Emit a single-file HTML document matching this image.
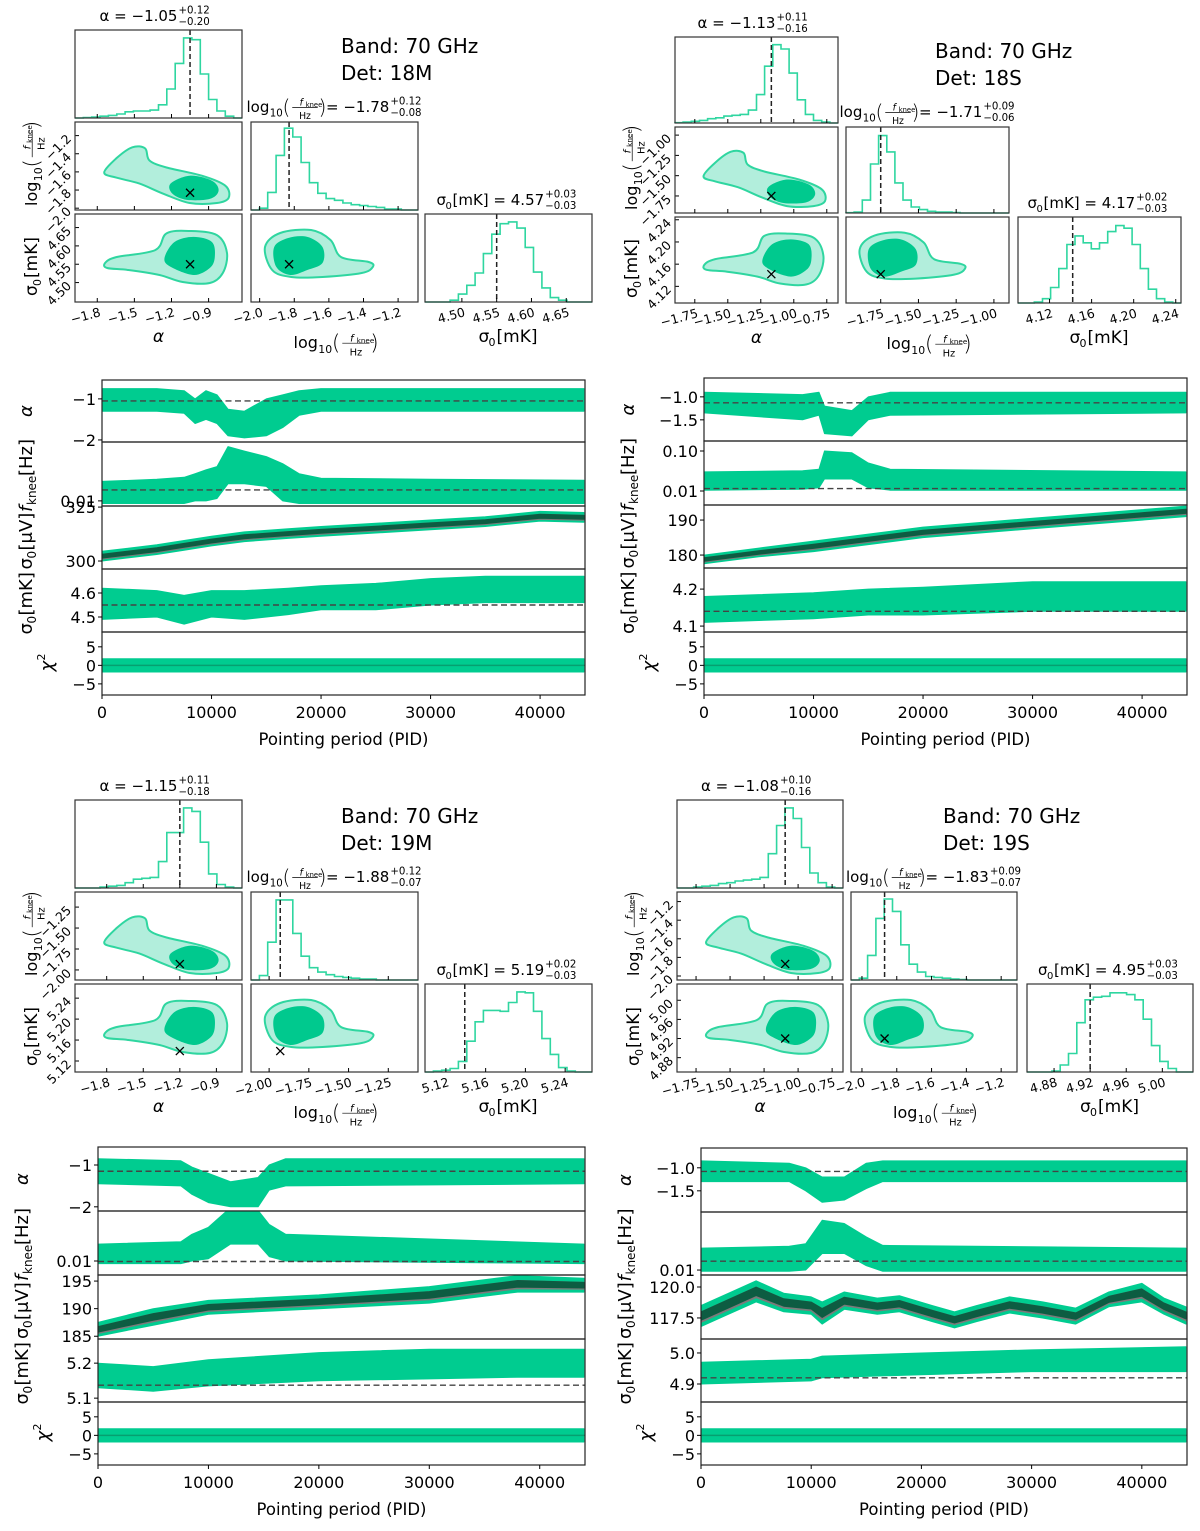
<!DOCTYPE html>
<html><head><meta charset="utf-8"><style>
html,body{margin:0;padding:0;background:#fff}
svg{display:block;font-family:"DejaVu Sans","Liberation Sans",sans-serif}
</style></head><body>
<svg id="fig" width="1200" height="1531" viewBox="0 0 1200 1531"></svg>
<script>
// ---------------- DATA ----------------
const DETS=['18M','18S','19M','19S'];
const ALPHA_MED=[-1.05,-1.13,-1.15,-1.08];
const ALPHA_PLUS=['+0.12','+0.11','+0.11','+0.10'];
const ALPHA_MINUS=['−0.20','−0.16','−0.18','−0.16'];
const LOGF_MED=[-1.78,-1.71,-1.88,-1.83];
const LOGF_PLUS=['+0.12','+0.09','+0.12','+0.09'];
const LOGF_MINUS=['−0.08','−0.06','−0.07','−0.07'];
const SIG_MED=[4.57,4.17,5.19,4.95];
const SIG_PLUS=['+0.03','+0.02','+0.02','+0.03'];
const SIG_MINUS=['−0.03','−0.03','−0.03','−0.03'];
const TRUTH_ALPHA=[-1.05,-1.17,-1.2,-1.095];
const TRUTH_LOGF=[-1.83,-1.75,-1.93,-1.87];
const TRUTH_SIG=[4.55,4.142,5.139,4.92];
const ALPHA_RANGE=[[-1.98,-0.63],[-1.9,-0.665],[-2.06,-0.69],[-1.89,-0.67]];
const LOGF_RANGE=[[-2.05,-1.085],[-1.98,-0.9],[-2.114,-1.063],[-2.063,-1.109]];
const LOGF_YRANGE=[[-2.02,-1.05],[-1.96,-0.9],[-2.12,-1.07],[-2.043,-1.097]];
const SIG_RANGE=[[4.447,4.687],[4.09,4.245],[5.099,5.267],[4.85,5.034]];
const ALPHA_TICKS=[[-1.8,-1.5,-1.2,-0.9],[-1.75,-1.5,-1.25,-1.0,-0.75],[-1.8,-1.5,-1.2,-0.9],[-1.75,-1.5,-1.25,-1.0,-0.75]];
const ALPHA_TICKLBL=[['−1.8','−1.5','−1.2','−0.9'],['−1.75','−1.50','−1.25','−1.00','−0.75'],['−1.8','−1.5','−1.2','−0.9'],['−1.75','−1.50','−1.25','−1.00','−0.75']];
const LOGF_TICKS=[[-2.0,-1.8,-1.6,-1.4,-1.2],[-1.75,-1.5,-1.25,-1.0],[-2.0,-1.75,-1.5,-1.25],[-2.0,-1.8,-1.6,-1.4,-1.2]];
const LOGF_TICKLBL=[['−2.0','−1.8','−1.6','−1.4','−1.2'],['−1.75','−1.50','−1.25','−1.00'],['−2.00','−1.75','−1.50','−1.25'],['−2.0','−1.8','−1.6','−1.4','−1.2']];
const SIG_TICKS=[[4.50,4.55,4.60,4.65],[4.12,4.16,4.20,4.24],[5.12,5.16,5.20,5.24],[4.88,4.92,4.96,5.00]];
const SIG_TICKLBL=[['4.50','4.55','4.60','4.65'],['4.12','4.16','4.20','4.24'],['5.12','5.16','5.20','5.24'],['4.88','4.92','4.96','5.00']];
// histograms (20 equal bins across axis range, height as fraction of panel)
const HIST_ALPHA=[
 [0,0.005,0.01,0.02,0.03,0.045,0.07,0.08,0.08,0.09,0.15,0.33,0.62,0.91,0.89,0.5,0.21,0.08,0.02,0],
 [0.003,0.01,0.02,0.03,0.05,0.06,0.08,0.09,0.1,0.15,0.33,0.66,0.91,0.86,0.58,0.27,0.1,0.03,0.01,0],
 [0,0,0,0.01,0.02,0.03,0.06,0.1,0.11,0.12,0.3,0.63,0.63,0.91,0.87,0.52,0.16,0.04,0.01,0],
 [0,0,0.01,0.02,0.03,0.05,0.06,0.08,0.09,0.1,0.12,0.39,0.71,0.91,0.79,0.46,0.17,0.06,0.01,0]];
const HIST_LOGF=[
 [0,0.02,0.2,0.62,0.93,0.83,0.54,0.31,0.19,0.13,0.11,0.08,0.06,0.05,0.04,0.03,0.01,0.01,0,0],
 [0.003,0.01,0.15,0.57,0.9,0.71,0.35,0.15,0.07,0.04,0.02,0.01,0.01,0.005,0,0,0,0,0,0],
 [0,0.05,0.43,0.91,0.91,0.53,0.27,0.14,0.09,0.06,0.04,0.03,0.02,0.01,0.01,0,0,0,0,0],
 [0,0.02,0.28,0.7,0.92,0.78,0.4,0.18,0.09,0.04,0.03,0.02,0.01,0.005,0,0,0,0,0,0]];
const HIST_SIG=[
 [0,0,0,0.02,0.09,0.19,0.33,0.55,0.77,0.89,0.91,0.84,0.62,0.34,0.16,0.05,0.02,0,0,0],
 [0,0,0.01,0.05,0.18,0.4,0.68,0.78,0.7,0.63,0.7,0.83,0.9,0.87,0.68,0.4,0.16,0.05,0.01,0],
 [0,0.01,0.02,0.04,0.12,0.35,0.57,0.7,0.7,0.69,0.79,0.91,0.9,0.69,0.38,0.2,0.05,0.01,0,0],
 [0,0,0,0.01,0.08,0.21,0.56,0.82,0.85,0.86,0.9,0.9,0.88,0.82,0.6,0.3,0.12,0.04,0,0]];
// contour shapes (fractions of panel)
const AF_OUT_X=[.175,.247,.343,.42,.446,.548,.76,.90,.92,.85,.687,.53,.386,.247];
const AF_OUT_Y=[.575,.414,.287,.30,.437,.517,.61,.724,.862,.92,.92,.816,.70,.632];
const AF_IN_X=[.572,.687,.82,.86,.807,.67,.584];
const AF_IN_Y=[.70,.61,.667,.78,.874,.885,.816];
const AS_OUT_X=[.18,.247,.48,.548,.687,.85,.91,.885,.807,.645,.506,.32,.193];
const AS_OUT_Y=[.557,.49,.41,.22,.193,.24,.443,.67,.784,.773,.693,.636,.614];
const AS_IN_X=[.536,.596,.71,.82,.837,.807,.71,.572];
const AS_IN_Y=[.50,.318,.26,.318,.49,.614,.693,.60];
const FS_OUT_X=[.084,.175,.36,.476,.54,.705,.73,.663,.428,.241,.127];
const FS_OUT_Y=[.375,.216,.182,.295,.49,.545,.60,.67,.716,.716,.636];
const FS_IN_X=[.139,.223,.337,.428,.428,.337,.235,.151];
const FS_IN_Y=[.375,.273,.26,.375,.557,.636,.693,.60];
// time series
const PID_MAX=44100;
const PID_TICKS=[0,10000,20000,30000,40000];
const CHI_PID=[0,44000], CHI_LO=[-1.8,-1.8], CHI_HI=[1.8,1.8];
const Q1_PID_A=[0,5000,7500,8500,9500,10500,11500,13000,15000,16500,18000,20000,30000,44000];
const Q1_ALPHA_LO=[-1.3,-1.3,-1.35,-1.6,-1.5,-1.6,-1.9,-1.95,-1.9,-1.7,-1.4,-1.3,-1.3,-1.3];
const Q1_ALPHA_HI=[-0.75,-0.75,-0.8,-1.0,-0.8,-0.9,-1.25,-1.3,-1.0,-0.9,-0.8,-0.75,-0.75,-0.75];
const Q1_FK_LO=[0.009,0.009,0.009,0.010,0.010,0.011,0.02,0.02,0.018,0.010,0.009,0.009,0.009,0.009];
const Q1_FK_HI=[0.022,0.024,0.026,0.03,0.035,0.04,0.09,0.075,0.06,0.045,0.03,0.025,0.024,0.023];
const Q1_PID_S=[0,5000,7500,10000,13000,17000,20000,25000,30000,35000,40000,44000];
const Q1_UV_LO=[300,303,305,307,309,310.5,311.5,313,314.5,316,318.5,318];
const Q1_UV_HI=[304.5,307.5,309.5,311.5,313.5,315,316,317.5,319,320.5,323,322.5];
const Q1_MK_LO=[4.49,4.5,4.47,4.5,4.49,4.51,4.53,4.53,4.55,4.56,4.56,4.56];
const Q1_MK_HI=[4.62,4.61,4.59,4.61,4.61,4.62,4.63,4.64,4.66,4.67,4.67,4.67];
const Q2_PID_A=[0,9000,10500,11000,13500,15000,17000,44000];
const Q2_ALPHA_LO=[-1.35,-1.5,-1.4,-1.8,-1.85,-1.5,-1.4,-1.35];
const Q2_ALPHA_HI=[-0.9,-0.95,-0.9,-1.2,-1.3,-1.0,-0.9,-0.9];
const Q2_FK_LO=[0.0105,0.011,0.012,0.02,0.02,0.012,0.0105,0.0105];
const Q2_FK_HI=[0.03,0.032,0.035,0.1,0.09,0.05,0.035,0.03];
const Q2_PID_S=[0,5000,10000,15000,20000,30000,40000,44000];
const Q2_UV_LO=[177.5,179.5,181,183,185,187.5,190,191];
const Q2_UV_HI=[180,182,184,186,188,190.5,193,194];
const Q2_MK_LO=[4.11,4.115,4.12,4.13,4.13,4.14,4.14,4.14];
const Q2_MK_HI=[4.18,4.185,4.19,4.2,4.205,4.22,4.22,4.22];
const Q3_PID_A=[0,7500,8500,10000,12000,14500,15500,17000,44000];
const Q3_ALPHA_LO=[-1.45,-1.5,-1.7,-1.9,-2.0,-2.0,-1.6,-1.5,-1.45];
const Q3_ALPHA_HI=[-0.85,-0.9,-1.05,-1.2,-1.4,-1.3,-1.0,-0.85,-0.85];
const Q3_FK_LO=[0.009,0.009,0.01,0.011,0.02,0.02,0.012,0.01,0.009];
const Q3_FK_HI=[0.02,0.022,0.03,0.04,0.09,0.08,0.045,0.03,0.02];
const Q3_PID_S=[0,5000,10000,20000,30000,38000,44000];
const Q3_UV_LO=[185,187,189,190,191,193,193];
const Q3_UV_HI=[187.5,190,191.5,192.5,194,196,195.5];
const Q3_MK_LO=[5.13,5.12,5.135,5.15,5.155,5.16,5.16];
const Q3_MK_HI=[5.2,5.19,5.21,5.23,5.24,5.24,5.24];
const Q4_PID_A=[0,8000,9500,11000,13000,15000,16500,44000];
const Q4_ALPHA_LO=[-1.3,-1.3,-1.5,-1.75,-1.7,-1.45,-1.3,-1.3];
const Q4_ALPHA_HI=[-0.85,-0.9,-1.0,-1.2,-1.2,-0.9,-0.85,-0.85];
const Q4_FK_LO=[0.0095,0.0095,0.01,0.02,0.02,0.012,0.0095,0.0095];
const Q4_FK_HI=[0.025,0.027,0.03,0.08,0.07,0.04,0.028,0.025];
const Q4_PID_UV=[0,2500,5000,7500,10000,11000,13000,16000,18000,21000,23000,25000,28000,31000,34000,37000,40000,42000,44000];
const Q4_UV_LO=[116.8,117.8,118.8,118,117.8,117,118.2,117.8,118,117.2,116.7,117.2,117.9,117.5,117,118.4,118.8,117.8,117];
const Q4_UV_HI=[118.5,119.5,120.5,119.5,119.2,118.8,119.6,119.1,119.3,118.5,118,118.5,119.2,118.8,118.3,119.6,120.3,119.1,118.4];
const Q4_PID_MK=[0,10000,11000,20000,30000,44000];
const Q4_MK_LO=[4.9,4.91,4.92,4.93,4.94,4.94];
const Q4_MK_HI=[4.97,4.98,4.99,5.0,5.01,5.02];
const TS_ALPHA_MED=[-1.05,-1.13,-1.15,-1.08];
const TS_FK_MED=[0.0156,0.0115,0.0098,0.0145];
const TS_MK_MED=[4.55,4.14,5.137,4.92];
const TS_ALPHA_DOM=[[-2.05,-0.54],[-1.96,-0.59],[-2.1,-0.57],[-1.96,-0.57]];
const TS_FK_DOM=[[-2.09,-0.965],[-2.35,-0.75],[-2.25,-1.107],[-2.09,-0.946]];
const TS_UV_DOM=[[296.3,325.5],[176.3,194.3],[184.5,196.1],[115.8,120.97]];
const TS_MK_DOM=[[4.4375,4.7],[4.084,4.257],[5.089,5.269],[4.842,5.045]];
const TS_CHI_DOM=[-8,9];
const TS_ALPHA_TICKS=[[-1,-2],[-1.0,-1.5],[-1,-2],[-1.0,-1.5]];
const TS_ALPHA_LBL=[['−1','−2'],['−1.0','−1.5'],['−1','−2'],['−1.0','−1.5']];
const TS_FK_TICKS=[[0.01],[0.01,0.1],[0.01],[0.01]];
const TS_FK_LBL=[['0.01'],['0.01','0.10'],['0.01'],['0.01']];
const TS_UV_TICKS=[[300,325],[180,190],[185,190,195],[117.5,120]];
const TS_UV_LBL=[['300','325'],['180','190'],['185','190','195'],['117.5','120.0']];
const TS_MK_TICKS=[[4.5,4.6],[4.1,4.2],[5.1,5.2],[4.9,5.0]];
const TS_MK_LBL=[['4.5','4.6'],['4.1','4.2'],['5.1','5.2'],['4.9','5.0']];
const CHI_TICKS=[5,0,-5], CHI_LBL=['5','0','−5'];
const TS_SERIES=[
 {a:[Q1_PID_A,Q1_ALPHA_LO,Q1_ALPHA_HI],f:[Q1_PID_A,Q1_FK_LO,Q1_FK_HI],u:[Q1_PID_S,Q1_UV_LO,Q1_UV_HI],m:[Q1_PID_S,Q1_MK_LO,Q1_MK_HI]},
 {a:[Q2_PID_A,Q2_ALPHA_LO,Q2_ALPHA_HI],f:[Q2_PID_A,Q2_FK_LO,Q2_FK_HI],u:[Q2_PID_S,Q2_UV_LO,Q2_UV_HI],m:[Q2_PID_S,Q2_MK_LO,Q2_MK_HI]},
 {a:[Q3_PID_A,Q3_ALPHA_LO,Q3_ALPHA_HI],f:[Q3_PID_A,Q3_FK_LO,Q3_FK_HI],u:[Q3_PID_S,Q3_UV_LO,Q3_UV_HI],m:[Q3_PID_S,Q3_MK_LO,Q3_MK_HI]},
 {a:[Q4_PID_A,Q4_ALPHA_LO,Q4_ALPHA_HI],f:[Q4_PID_A,Q4_FK_LO,Q4_FK_HI],u:[Q4_PID_UV,Q4_UV_LO,Q4_UV_HI],m:[Q4_PID_MK,Q4_MK_LO,Q4_MK_HI]}];

// ---------------- LAYOUT ----------------
const LAYOUT=[
 {cols:[75,251,425],w:167,rows:[30,122,214],h:88,bx:341,by:[53,80],tx:102,tw:483,tb:[380,442,506,569,632,695]},
 {cols:[675,846,1018],w:163,rows:[37,127,217],h:86,bx:935,by:[58,85],tx:704,tw:483,tb:[378,441,505,568,632,695]},
 {cols:[75,251,425],w:167,rows:[800,892,984],h:88,bx:341,by:[823,850],tx:98,tw:487,tb:[1147,1211,1275,1339,1402,1465]},
 {cols:[677,851,1027],w:166,rows:[800,892,984],h:88,bx:943,by:[823,850],tx:701,tw:486,tb:[1148,1212,1275,1339,1402,1465]}];
const C_LINE='#2fd6a0', C_LIGHT='#b2eedc', C_DARK='#00c98e', C_TS='#00cc90', C_TSDARK='#0d5c42', C_GRAY='#7a7a7a';

// ---------------- HELPERS ----------------
const NS='http://www.w3.org/2000/svg';
const svg=document.getElementById('fig');
function el(tag,attrs,parent){const e=document.createElementNS(NS,tag);for(const k in attrs)e.setAttribute(k,attrs[k]);parent.appendChild(e);return e;}
function lin(d0,d1,p0,p1){return v=>p0+(v-d0)/(d1-d0)*(p1-p0);}
function smooth(pts){let d='';const n=pts.length;for(let i=0;i<n;i++){const p0=pts[(i-1+n)%n],p1=pts[i],p2=pts[(i+1)%n],p3=pts[(i+2)%n];
 if(i===0)d+='M'+p1[0].toFixed(1)+','+p1[1].toFixed(1);
 const c1=[p1[0]+(p2[0]-p0[0])/6,p1[1]+(p2[1]-p0[1])/6],c2=[p2[0]-(p3[0]-p1[0])/6,p2[1]-(p3[1]-p1[1])/6];
 d+='C'+c1[0].toFixed(1)+','+c1[1].toFixed(1)+' '+c2[0].toFixed(1)+','+c2[1].toFixed(1)+' '+p2[0].toFixed(1)+','+p2[1].toFixed(1);}return d+'Z';}
function txt(parent,x,y,s,size,anchor,extra){const t=el('text',Object.assign({x:x,y:y,'font-size':size,'text-anchor':anchor||'start',fill:'#000'},extra||{}),parent);t.textContent=s;return t;}
// log10(f_knee/Hz) label, starting at x baseline y, returns width
function logLabel(g,x,y,s){
 txt(g,x,y,'log',s);
 txt(g,x+1.55*s,y+0.3*s,'10',0.68*s);
 txt(g,x+2.4*s,y+0.12*s,'(',1.35*s,'start',{'font-weight':'100'});
 txt(g,x+3.65*s,y-0.42*s,'f',0.62*s,'middle',{'font-style':'italic'});
 txt(g,x+3.95*s,y-0.32*s,'knee',0.45*s,'start');
 el('line',{x1:x+3.05*s,x2:x+4.75*s,y1:y-0.3*s,y2:y-0.3*s,stroke:'#000','stroke-width':0.7},g);
 txt(g,x+3.9*s,y+0.48*s,'Hz',0.62*s,'middle');
 txt(g,x+4.8*s,y+0.12*s,')',1.35*s,'start',{'font-weight':'100'});
 return 5.3*s;}
function supsub(g,x,y,p,m,s){txt(g,x,y-0.5*s,p,0.68*s);txt(g,x,y+0.28*s,m,0.68*s);}

// ---------------- DRAW ----------------
for(let q=0;q<4;q++){
 const L=LAYOUT[q];
 const G=el('g',{},svg);
 
 
 // band text
 const bt=el('g',{},G);
 
 
 txt(bt,L.bx,L.by[0],'Band: 70 GHz',20);
 txt(bt,L.bx,L.by[1],'Det: '+DETS[q],20);

 const ranges=[ALPHA_RANGE[q],LOGF_RANGE[q],SIG_RANGE[q]];
 const yranges=[null,LOGF_YRANGE[q],[SIG_RANGE[q][0]+0.002*0,SIG_RANGE[q][1]]];
 const ticks=[ALPHA_TICKS[q],LOGF_TICKS[q],SIG_TICKS[q]];
 const tlbl=[ALPHA_TICKLBL[q],LOGF_TICKLBL[q],SIG_TICKLBL[q]];
 const hists=[HIST_ALPHA[q],HIST_LOGF[q],HIST_SIG[q]];
 const truths=[TRUTH_ALPHA[q],TRUTH_LOGF[q],TRUTH_SIG[q]];
 const corner=el('g',{},G);
 
 
 for(let r=0;r<3;r++){for(let c=0;c<=r;c++){
  const x0=L.cols[c],y0=L.rows[r],w=L.w,h=L.h;
  const sx=lin(ranges[c][0],ranges[c][1],x0,x0+w);
  const pg=el('g',{},corner);
  
  
  if(r===c){
   const hv=hists[c],n=hv.length,bw=w/n;let d='M'+x0+','+(y0+h);
   for(let i=0;i<n;i++){const yy=y0+h-hv[i]*h;d+='L'+(x0+i*bw).toFixed(1)+','+yy.toFixed(1)+'L'+(x0+(i+1)*bw).toFixed(1)+','+yy.toFixed(1);}
   d+='L'+(x0+w)+','+(y0+h);
   const hp=el('path',{d:d,fill:'none',stroke:C_LINE,'stroke-width':1.6},pg);
   
   
   const tx=sx(truths[c]);
   const dl=el('line',{x1:tx,x2:tx,y1:y0,y2:y0+h,stroke:'#222','stroke-width':1.5,'stroke-dasharray':'5,3'},pg);
   
   
  } else {
   const sy=lin(yranges[r][0],yranges[r][1],y0+h,y0);
   let ox,oy,ix,iy;
   if(c===0&&r===1){ox=AF_OUT_X;oy=AF_OUT_Y;ix=AF_IN_X;iy=AF_IN_Y;}
   else if(c===0&&r===2){ox=AS_OUT_X;oy=AS_OUT_Y;ix=AS_IN_X;iy=AS_IN_Y;}
   else {ox=FS_OUT_X;oy=FS_OUT_Y;ix=FS_IN_X;iy=FS_IN_Y;}
   const po=ox.map((v,i)=>[x0+v*w,y0+oy[i]*h]);
   const pi=ix.map((v,i)=>[x0+v*w,y0+iy[i]*h]);
   const o=el('path',{d:smooth(po),fill:C_LIGHT,stroke:C_LINE,'stroke-width':2},pg);
   
   
   const ii=el('path',{d:smooth(pi),fill:C_DARK,stroke:'none'},pg);
   
   
   const mx=sx(truths[c]),my=sy(truths[r]);
   const xm=el('path',{d:`M${mx-4},${my-4}L${mx+4},${my+4}M${mx-4},${my+4}L${mx+4},${my-4}`,stroke:'#000','stroke-width':1.3},pg);
   
   
   // y ticks
   if(c===0){ticks[r].forEach((t,i)=>{const yy=sy(t);el('line',{x1:x0,x2:x0+4,y1:yy,y2:yy,stroke:'#000'},pg);
     txt(pg,x0-3,yy+4,tlbl[r][i],12.5,'end',{transform:`rotate(-45 ${x0-3} ${yy+4})`});});}
  }
  const box=el('rect',{x:x0,y:y0,width:w,height:h,fill:'none',stroke:'#333','stroke-width':1.2},pg);
  
  
  // x ticks on bottom
  ticks[c].forEach(t=>{const xx=sx(t);el('line',{x1:xx,x2:xx,y1:y0+h,y2:y0+h-4,stroke:'#000'},pg);});
  if(r===2){ticks[c].forEach((t,i)=>{const xx=sx(t);txt(pg,xx+4,y0+h+14,tlbl[c][i],12.5,'end',{transform:`rotate(-15 ${xx+4} ${y0+h+14})`});});}
 }}
 // corner titles
 const cx0=L.cols[0]+L.w/2, cx1=L.cols[1]+L.w/2, cx2=L.cols[2]+L.w/2;
 const t1=el('g',{},corner);
 
 
 const a1=txt(t1,cx0-20,L.rows[0]-9,'α = '+(ALPHA_MED[q]<0?'−':'')+Math.abs(ALPHA_MED[q]).toFixed(2),15,'middle');
 supsub(t1,cx0-20+a1.getComputedTextLength()/2+1,L.rows[0]-9,ALPHA_PLUS[q],ALPHA_MINUS[q],15);
 const t2=el('g',{},corner);
 
 
 const lx=cx1-88;const lw=logLabel(t2,lx,L.rows[1]-10,15);
 const a2=txt(t2,lx+lw,L.rows[1]-10,'= −'+Math.abs(LOGF_MED[q]).toFixed(2),15);
 supsub(t2,lx+lw+a2.getComputedTextLength()+1,L.rows[1]-10,LOGF_PLUS[q],LOGF_MINUS[q],15);
 const t3=el('g',{},corner);
 
 
 const a3=txt(t3,cx2-72,L.rows[2]-9,'σ',15);
 txt(t3,cx2-63,L.rows[2]-5,'0',10);
 const a3b=txt(t3,cx2-56,L.rows[2]-9,' [mK] = '+SIG_MED[q].toFixed(2),15);
 supsub(t3,cx2-56+a3b.getComputedTextLength()+1,L.rows[2]-9,SIG_PLUS[q],SIG_MINUS[q],15);
 // axis labels
 const yb=L.rows[2]+L.h;
 const xl1=txt(corner,cx0,yb+40,'α',17,'middle',{'font-style':'italic'});
 
 
 const xl2=el('g',{},corner);
 
 
 logLabel(xl2,cx1-41,yb+46,16);
 const xl3=el('g',{},corner);
 
 
 txt(xl3,cx2-30,yb+40,'σ',17);txt(xl3,cx2-20,yb+44,'0',11);txt(xl3,cx2-12,yb+40,' [mK]',17);
 const yl1=el('g',{transform:`translate(${L.cols[0]-38},${L.rows[1]+L.h/2+40}) rotate(-90)`},corner);
 
 
 logLabel(yl1,0,0,16);
 const yl2=el('g',{transform:`translate(${L.cols[0]-38},${L.rows[2]+L.h/2+38}) rotate(-90)`},corner);
 
 
 txt(yl2,0,0,'σ',17);txt(yl2,10,4,'0',11);txt(yl2,18,0,' [mK]',17);

 // ---------- time series ----------
 const TS=el('g',{},G);
 
 
 const X0=L.tx,W=L.tw,B=L.tb;
 const sx=lin(0,PID_MAX,X0,X0+W);
 const S=TS_SERIES[q];
 const rowsDef=[
  {key:'alpha',dom:TS_ALPHA_DOM[q],log:false,ser:S.a,med:TS_ALPHA_MED[q],ticks:TS_ALPHA_TICKS[q],lbl:TS_ALPHA_LBL[q]},
  {key:'fknee',dom:TS_FK_DOM[q],log:true,ser:S.f,med:TS_FK_MED[q],ticks:TS_FK_TICKS[q],lbl:TS_FK_LBL[q]},
  {key:'sigma0-uv',dom:TS_UV_DOM[q],log:false,ser:S.u,med:null,ticks:TS_UV_TICKS[q],lbl:TS_UV_LBL[q]},
  {key:'sigma0-mk',dom:TS_MK_DOM[q],log:false,ser:S.m,med:TS_MK_MED[q],ticks:TS_MK_TICKS[q],lbl:TS_MK_LBL[q]},
  {key:'chi2',dom:TS_CHI_DOM,log:false,ser:[CHI_PID,CHI_LO,CHI_HI],med:null,ticks:CHI_TICKS,lbl:CHI_LBL}];
 rowsDef.forEach((R,ri)=>{
  const top=B[ri],bot=B[ri+1];
  const f=R.log?(v=>Math.log10(v)):(v=>v);
  const syy=lin(R.dom[0],R.dom[1],bot,top);
  const sy=v=>syy(f(v));
  const rg=el('g',{},TS);
  
  
  const clip=el('clipPath',{id:'c'+q+ri},rg);
  el('rect',{x:X0,y:top,width:W,height:bot-top},clip);
  const inner=el('g',{'clip-path':`url(#c${q}${ri})`},rg);
  const [pid,lo,hi]=R.ser;
  function band(lf,hf,color,name){
   let d='';pid.forEach((p,i)=>{d+=(i?'L':'M')+sx(p).toFixed(1)+','+sy(hf(i)).toFixed(1);});
   for(let i=pid.length-1;i>=0;i--)d+='L'+sx(pid[i]).toFixed(1)+','+sy(lf(i)).toFixed(1);
   const p=el('path',{d:d+'Z',fill:color,stroke:color,'stroke-width':1,'stroke-linejoin':'round'},inner);
   
   }
  band(i=>lo[i],i=>hi[i],C_TS,'series-band');
  if(R.key==='sigma0-uv'){
   band(i=>lo[i]+0.2*(hi[i]-lo[i]),i=>hi[i]-0.3*(hi[i]-lo[i]),C_GRAY,'reference-band');
   band(i=>lo[i]+0.3*(hi[i]-lo[i]),i=>hi[i]-0.3*(hi[i]-lo[i]),C_TSDARK,'model-band');}
  if(R.key==='chi2'){const zl=el('line',{x1:X0,x2:X0+W,y1:sy(0),y2:sy(0),stroke:'#06a070','stroke-width':1.5},inner);
   
   }
  if(R.med!==null){const ml=el('line',{x1:X0,x2:X0+W,y1:sy(R.med),y2:sy(R.med),stroke:'#444','stroke-width':1.4,'stroke-dasharray':'6,3.5'},inner);
   
   }
  const fr=el('rect',{x:X0,y:top,width:W,height:bot-top,fill:'none',stroke:'#222','stroke-width':1.2},rg);
  
  
  R.ticks.forEach((t,i)=>{const yy=sy(t);el('line',{x1:X0-4,x2:X0,y1:yy,y2:yy,stroke:'#000'},rg);
   const tl=txt(rg,X0-6,yy+6,R.lbl[i],16,'end');
   
   });
 });
 // y labels
 const labs=[['α',B[0],B[1]],['fk',B[1],B[2]],['uv',B[2],B[3]],['mk',B[3],B[4]]];
 labs.forEach(([k,t,b])=>{const cy=(t+b)/2,xx=X0-76;
  const g=el('g',{transform:`translate(${xx},${cy}) rotate(-90)`},TS);
  
  
  if(k==='α')txt(g,0,6,'α',18,'middle',{'font-style':'italic'});
  else if(k==='fk'){txt(g,-38,6,'f',18,'start',{'font-style':'italic'});txt(g,-31,10,'knee',12);txt(g,-2,6,' [Hz]',18);}
  else if(k==='uv'){txt(g,-32,6,'σ',18);txt(g,-21,10,'0',12);txt(g,-13,6,' [μV]',18);}
  else {txt(g,-34,6,'σ',18);txt(g,-23,10,'0',12);txt(g,-15,6,' [mK]',18);}
 });
 const chil=el('g',{transform:`translate(${X0-55},${(B[4]+B[5])/2}) rotate(-90)`},TS);
 
 
 txt(chil,-8,6,'χ',18,'start',{'font-style':'italic'});txt(chil,3,-2,'2',11);
 // x ticks
 PID_TICKS.forEach(t=>{const xx=sx(t);el('line',{x1:xx,x2:xx,y1:B[5],y2:B[5]+4,stroke:'#000'},TS);
  const l=txt(TS,xx,B[5]+23,String(t),16,'middle');
  
  });
 const xt=txt(TS,X0+W/2,B[5]+50,'Pointing period (PID)',16.5,'middle');
 
 
}
</script>
</body></html>
